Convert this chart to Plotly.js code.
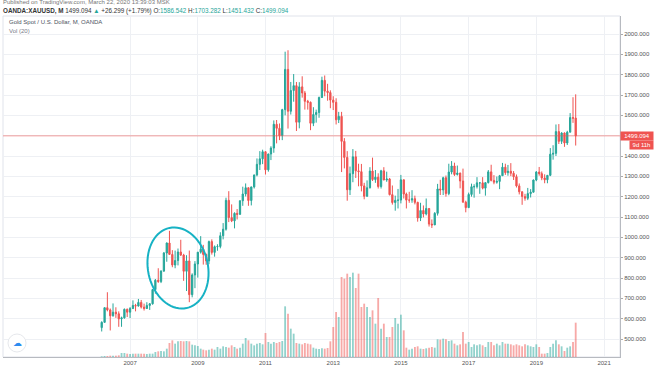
<!DOCTYPE html>
<html>
<head>
<meta charset="utf-8">
<script src="https://cdn.plot.ly/plotly-3.0.1.min.js"></script>
<style>html,body{margin:0;padding:0;background:#fff;}#chart{width:654px;height:366px;}</style>
</head>
<body>
<div id="chart"></div>
<script>
// Monthly XAUUSD candles, March 2006 .. March 2020
const startYear = 2006, startMonth = 3, monthCount = 169;
const opens = [
556,582,654,643,614,632,624,599,604,646,
632,650,665,662,680,657,650,665,673,743,789,783,
834,923,972,916,864,886,928,913,833,884,718,815,
869,927,942,916,884,979,926,954,955,1008,1040,1182,
1097,1081,1118,1113,1180,1213,1244,1181,1248,1307,1359,1386,
1421,1332,1410,1439,1556,1536,1500,1628,1826,1620,1722,1746,
1566,1740,1710,1669,1664,1561,1604,1614,1688,1772,1719,1712,
1675,1664,1578,1595,1472,1393,1234,1313,1396,1327,1323,1253,
1202,1244,1326,1284,1296,1250,1327,1282,1287,1210,1171,1182,
1183,1283,1213,1183,1183,1190,1172,1095,1132,1115,1142,1065,
1061,1118,1238,1233,1293,1215,1321,1351,1309,1316,1277,1173,
1146,1211,1249,1249,1268,1268,1242,1269,1322,1280,1271,1275,
1303,1345,1318,1325,1315,1298,1253,1224,1201,1192,1215,1222,
1282,1321,1313,1292,1283,1305,1409,1413,1520,1472,1513,1464,
1517,1589,1586.542];
const highs = [
587,655,730,650,675,656,636,610,650,650,
657,690,673,697,692,674,681,677,745,795,848,838,
928,975,1032,937,935,945,988,919,912,935,823,883,
928,1006,963,920,984,990,960,966,1025,1070,1195,1227,
1162,1123,1139,1181,1249,1265,1245,1249,1308,1388,1424,1431,
1424,1411,1448,1575,1577,1560,1632,1913,1920,1764,1803,1764,
1763,1792,1720,1676,1668,1640,1628,1692,1790,1796,1755,1723,
1694,1684,1617,1617,1488,1424,1348,1434,1425,1362,1361,1268,
1280,1345,1392,1331,1315,1332,1345,1323,1292,1255,1205,1238,
1307,1284,1220,1224,1232,1205,1175,1170,1157,1191,1143,1088,
1124,1263,1283,1298,1304,1362,1375,1367,1353,1318,1338,1180,
1220,1264,1261,1296,1270,1296,1270,1331,1357,1306,1299,1307,
1366,1362,1356,1365,1326,1309,1265,1226,1214,1243,1237,1284,
1326,1346,1324,1310,1306,1439,1453,1555,1557,1517,1516,1524,
1611,1689,1703.282];
const lows = [
537,580,636,542,610,604,560,560,600,608,
603,647,636,660,650,640,648,643,669,723,776,775,
830,880,915,853,848,862,908,786,736,681,705,750,
802,920,866,865,868,915,905,934,946,990,1033,1075,
1075,1044,1088,1111,1155,1201,1155,1157,1240,1300,1331,1360,
1309,1323,1380,1416,1462,1478,1478,1600,1535,1604,1667,1523,
1536,1687,1628,1628,1527,1547,1564,1588,1685,1694,1672,1635,
1626,1555,1562,1321,1339,1180,1208,1271,1292,1251,1226,1187,
1200,1240,1277,1268,1240,1240,1281,1273,1206,1161,1131,1142,
1167,1191,1142,1170,1170,1162,1077,1080,1098,1108,1053,1046,
1061,1107,1208,1208,1200,1207,1310,1302,1304,1241,1171,1123,
1146,1200,1195,1240,1214,1236,1205,1265,1275,1261,1264,1237,
1303,1307,1303,1301,1282,1245,1211,1160,1180,1183,1196,1221,
1276,1303,1281,1266,1266,1301,1382,1400,1459,1459,1445,1454,
1517,1563,1451.432];
const closes = [
582,654,643,614,632,624,599,604,646,632,
650,665,662,680,657,650,665,673,743,789,783,834,
923,972,916,864,886,928,913,833,884,718,815,869,
927,942,916,884,979,926,954,955,1008,1040,1182,1097,
1081,1118,1113,1180,1213,1244,1181,1248,1307,1359,1386,1421,
1332,1410,1439,1556,1536,1500,1628,1826,1620,1722,1746,1566,
1740,1710,1669,1664,1561,1604,1614,1688,1772,1719,1712,1675,
1664,1578,1595,1472,1393,1234,1313,1396,1327,1323,1253,1202,
1244,1326,1284,1296,1250,1327,1282,1287,1210,1171,1182,1183,
1283,1213,1183,1183,1190,1172,1095,1132,1115,1142,1065,1061,
1118,1238,1233,1293,1215,1321,1351,1309,1316,1277,1173,1146,
1211,1249,1249,1268,1268,1242,1269,1322,1280,1271,1275,1303,
1345,1318,1325,1315,1298,1253,1224,1201,1192,1215,1222,1282,
1321,1313,1292,1283,1305,1409,1413,1520,1472,1513,1464,1517,
1589,1586,1499.094];
const volumes = [
2,3,3,4,4,4,5,12,12,10,
9,10,10,10,10,10,9,10,10,15,
17,18,17,25,42,50,40,47,48,47,
48,47,37,35,33,25,22,20,22,25,
22,30,25,32,30,28,35,30,25,28,
40,57,50,40,35,40,42,38,72,45,
40,45,42,45,48,152,130,85,70,42,
40,38,42,40,38,28,25,24,26,25,
27,47,90,135,120,240,235,250,240,253,
207,250,150,160,150,120,140,100,177,85,
100,60,60,90,117,100,127,80,28,22,
25,30,32,25,24,26,28,30,28,53,
52,55,53,48,50,40,35,38,75,40,
45,30,38,35,38,35,30,45,45,35,
40,35,45,40,40,38,35,38,35,32,
38,35,32,30,38,30,10,10,12,30,
40,50,38,32,18,28,32,45,103];
const yearTicks = ['2007', '2009', '2011', '2013', '2015', '2017', '2019', '2021'];
const headerLine1 = 'Published on TradingView.com, March 22, 2020 13:39:03 MSK';
const symbolName = 'OANDA:XAUUSD, M';
const changeText = '+26.299 (+1.79%)';
const seriesTitle = 'Gold Spot / U.S. Dollar, M, OANDA';
const volTitle = 'Vol (20)';
const countdown = '9d 11h';

// month dates
const dates = [];
for (let k = 0; k < monthCount; k++) {
  const m = startMonth - 1 + k;
  const y = startYear + Math.floor(m / 12);
  const mm = (m % 12) + 1;
  dates.push(y + '-' + (mm < 10 ? '0' + mm : mm) + '-01');
}
const tickDates = yearTicks.map(y => y + '-01-01');

const UP = '#26a69a', DOWN = '#ef5350';
const volColors = closes.map((c, k) => c >= opens[k] ? 'rgba(38,166,154,0.5)' : 'rgba(239,83,80,0.5)');

const volTrace = {
  type: 'bar', x: dates, y: volumes, yaxis: 'y', xaxis: 'x',
  marker: {color: volColors, line: {width: 0}}, hoverinfo: 'skip'
};
const candleTrace = {
  type: 'candlestick', x: dates, open: opens, high: highs, low: lows, close: closes,
  xaxis: 'x', yaxis: 'y2',
  increasing: {line: {color: UP, width: 1}, fillcolor: UP},
  decreasing: {line: {color: DOWN, width: 1}, fillcolor: DOWN},
  whiskerwidth: 0, hoverinfo: 'skip'
};

// pixel helpers for overlay decorations (plot area: x 3..620, y 16..357)
const L = 3, R = 620, T = 16, B = 357;
const px = v => (v - L) / (R - L);
const py = v => (B - v) / (B - T);

// hand-drawn ellipse around 2008
const cx = 178, cy = 268, ea = 41, eb = 30, ang = 12 * Math.PI / 180;
const ux = Math.sin(ang), uy = Math.cos(ang), vx = Math.cos(ang), vy = -Math.sin(ang);
let path = '';
for (let k = 0; k <= 72; k++) {
  const t = k / 72 * 2 * Math.PI;
  const X = cx + ea * Math.cos(t) * ux + eb * Math.sin(t) * vx;
  const Y = cy + ea * Math.cos(t) * uy + eb * Math.sin(t) * vy;
  path += (k === 0 ? 'M' : 'L') + px(X).toFixed(5) + ',' + py(Y).toFixed(5);
}
path += 'Z';

const last = closes[closes.length - 1];
const fam = 'Liberation Sans, Arial, sans-serif';

const layout = {
  width: 654, height: 366,
  margin: {l: L, r: 654 - R, t: T, b: 366 - B, pad: 0},
  paper_bgcolor: '#ffffff', plot_bgcolor: '#ffffff',
  showlegend: false, bargap: 0.3, hovermode: false,
  font: {family: fam, size: 6, color: '#555'},
  xaxis: {
    type: 'date', range: ['2003-04-01', '2021-06-22'],
    tickmode: 'array', tickvals: tickDates, ticktext: yearTicks,
    showgrid: true, gridcolor: '#eef0f4', gridwidth: 1,
    showline: true, linecolor: '#b7bac0', linewidth: 1,
    ticks: '', tickfont: {size: 6, color: '#555', family: fam},
    rangeslider: {visible: false}, fixedrange: true, zeroline: false
  },
  yaxis: {range: [0, 1023], visible: false, showgrid: false, fixedrange: true},
  yaxis2: {
    overlaying: 'y', side: 'right', range: [411.5, 2088.5],
    tick0: 0, dtick: 100, tickformat: '.3f',
    showgrid: true, gridcolor: '#eef0f4', gridwidth: 1,
    showline: true, linecolor: '#b7bac0', linewidth: 1,
    ticks: 'outside', ticklen: 2, tickcolor: '#aaa',
    tickfont: {size: 6, color: '#555', family: fam},
    zeroline: false, fixedrange: true
  },
  shapes: [
    {type: 'rect', xref: 'paper', yref: 'paper', x0: 0, x1: 1, y0: 0, y1: 1,
     line: {color: '#e0e3eb', width: 1}, layer: 'below'},
    {type: 'line', xref: 'paper', yref: 'y2', x0: 0, x1: 1, y0: last, y1: last,
     line: {color: 'rgba(239,83,80,0.55)', width: 1}},
    {type: 'path', xref: 'paper', yref: 'paper', path: path,
     line: {color: '#17b2c4', width: 2}},
    {type: 'circle', xref: 'paper', yref: 'paper', x0: px(8), x1: px(26), y0: py(352), y1: py(334),
     line: {color: '#e6e8ec', width: 1}, fillcolor: '#ffffff'}
  ],
  annotations: [
    {xref: 'paper', yref: 'paper', x: px(1), y: py(2), xanchor: 'left', yanchor: 'middle',
     text: headerLine1, showarrow: false, font: {size: 6, color: '#777', family: fam}},
    {xref: 'paper', yref: 'paper', x: px(1), y: py(11), xanchor: 'left', yanchor: 'middle',
     text: '<b>' + symbolName + '</b> ' + last.toFixed(3) + ' <span style="color:#26a69a">▲</span> ' + changeText +
       ' O:<span style="color:#26a69a">' + opens[opens.length-1].toFixed(3) + '</span>' +
       ' H:<span style="color:#26a69a">' + highs[highs.length-1].toFixed(3) + '</span>' +
       ' L:<span style="color:#26a69a">' + lows[lows.length-1].toFixed(3) + '</span>' +
       ' C:<span style="color:#26a69a">' + last.toFixed(3) + '</span>',
     showarrow: false, font: {size: 6.3, color: '#333', family: fam}},
    {xref: 'paper', yref: 'paper', x: px(7), y: py(22), xanchor: 'left', yanchor: 'middle',
     text: seriesTitle, showarrow: false, font: {size: 6, color: '#4c525e', family: fam}},
    {xref: 'paper', yref: 'paper', x: px(7), y: py(31), xanchor: 'left', yanchor: 'middle',
     text: volTitle, showarrow: false, font: {size: 6, color: '#787b86', family: fam}},
    {xref: 'paper', yref: 'y2', x: 1, y: last, xanchor: 'left', yanchor: 'middle',
     text: last.toFixed(3), showarrow: false, bgcolor: '#ef5350', borderpad: 1,
     font: {size: 6, color: '#ffffff', family: fam}, width: 30},
    {xref: 'paper', yref: 'paper', x: px(629), y: py(145), xanchor: 'left', yanchor: 'middle',
     text: countdown, showarrow: false, bgcolor: '#ef5350', borderpad: 1,
     font: {size: 6, color: '#ffffff', family: fam}, width: 21},
    {xref: 'paper', yref: 'paper', x: px(17), y: py(343), xanchor: 'center', yanchor: 'middle',
     text: '☁', showarrow: false, font: {size: 9, color: '#2d8cf0', family: 'DejaVu Sans'}}
  ]
};

Plotly.newPlot('chart', [volTrace, candleTrace], layout, {staticPlot: true, displayModeBar: false});
</script>
</body>
</html>
